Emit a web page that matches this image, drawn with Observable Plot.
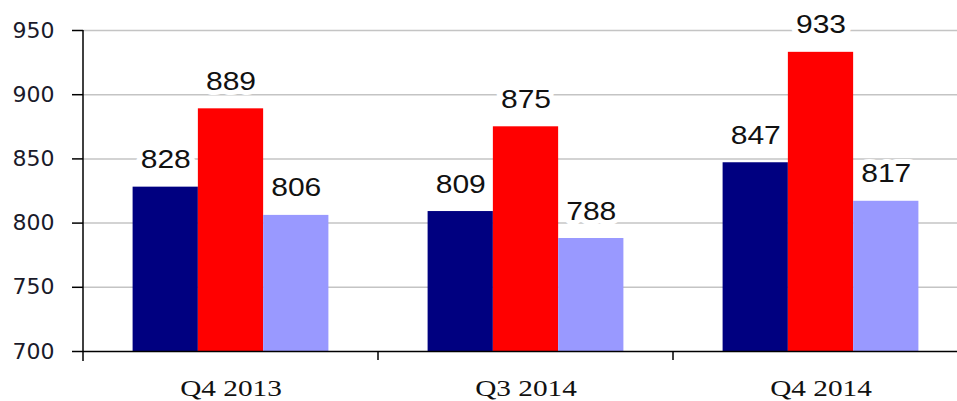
<!DOCTYPE html>
<html>
<head>
<meta charset="utf-8">
<script src="https://cdn.jsdelivr.net/npm/d3@7"></script>
<script src="https://cdn.jsdelivr.net/npm/@observablehq/plot@0.6"></script>
<style>
  html, body { margin: 0; padding: 0; background: #fff; overflow: hidden; }
  svg.plot, .plot { max-width: none !important; }
</style>
</head>
<body>
<div id="chart"></div>
<script>
const quarters = ["Q4 2013", "Q3 2014", "Q4 2014"];
const seriesNames = ["Series 1", "Series 2", "Series 3"];
const series1 = [828, 809, 847];
const series2 = [889, 875, 933];
const series3 = [806, 788, 817];
const yTicks = [700, 750, 800, 850, 900, 950];
const colors = ["#000080", "#FF0000", "#9999FF"];

const allSeries = [series1, series2, series3];
const data = [];
quarters.forEach((q, qi) => {
  seriesNames.forEach((s, si) => {
    data.push({quarter: q, series: s, value: allSeries[si][qi]});
  });
});

const chart = Plot.plot({
  width: 968,
  height: 401,
  marginLeft: 82,
  marginRight: 0,
  marginTop: 30,
  marginBottom: 50,
  style: {background: "#fff", maxWidth: "none", overflow: "hidden"},
  fx: {domain: quarters, padding: 0, label: null},
  x: {domain: seriesNames, paddingInner: 0, paddingOuter: 0.76, round: false, axis: null},
  y: {domain: [700, 950], ticks: yTicks, label: null},
  color: {domain: seriesNames, range: colors},
  marks: [
    Plot.gridY(yTicks.slice(1), {stroke: "#c4c4c4", strokeOpacity: 1, strokeWidth: 1.5}),
    Plot.barY(data, {fx: "quarter", x: "series", y1: 700, y2: "value", fill: "series"}),
    Plot.ruleY([700], {stroke: "#000", strokeWidth: 1.5}),
    Plot.text(data, {
      fx: "quarter", x: "series", y: "value", text: d => String(d.value),
      dy: -27, lineAnchor: "middle", textAnchor: "middle",
      fontSize: 25, fontFamily: "Liberation Sans", fill: "#111",
      stroke: "#fff", strokeWidth: 10
    }),
    Plot.axisY(yTicks, {
      tickSize: 11, tickPadding: 18, fontSize: 22, fontFamily: "DejaVu Sans",
      fill: "#1a1a2a", stroke: "#000", strokeWidth: 1.5, label: null
    }),
    Plot.axisFx({
      anchor: "bottom",
      tickSize: 0, tickPadding: 27, fontSize: 24, fontFamily: "Liberation Serif",
      fill: "#111", label: null
    })
  ]
});

document.getElementById("chart").appendChild(chart);

const svgEl = chart.tagName === "svg" ? chart : chart.querySelector("svg");
const svg = d3.select(svgEl);
const valueStrings = data.map(d => String(d.value));

// the reference's text is drawn slightly wide: stretch labels horizontally
function stretch(filterFn, fontSize, family, factor) {
  svg.selectAll("text").filter(function() { return filterFn(this.textContent); })
    .style("font-size", fontSize + "px").style("font-family", family)
    .each(function() {
      const w = this.getComputedTextLength();
      this.setAttribute("textLength", (w * factor).toFixed(1));
      this.setAttribute("lengthAdjust", "spacingAndGlyphs");
    });
}
stretch(t => quarters.includes(t), 24, "'Liberation Serif', serif", 1.22);
stretch(t => valueStrings.includes(t), 25, "'Liberation Sans', sans-serif", 1.2);

// axis line and group boundary ticks, positioned from the chart's scales
const fx = chart.scale("fx");
const ys = chart.scale("y");
const yTop = ys.apply(950), yBase = ys.apply(700);
const g = svg.append("g").attr("stroke", "#000").attr("stroke-width", 1.5);
const x0 = fx.apply(quarters[0]);
g.append("line").attr("x1", x0).attr("x2", x0).attr("y1", yTop).attr("y2", yBase + 10);
const bounds = quarters.slice(1).map(q => fx.apply(q)).concat([fx.apply(quarters[quarters.length - 1]) + fx.bandwidth]);
bounds.forEach(b => {
  g.append("line").attr("x1", b).attr("x2", b).attr("y1", yBase).attr("y2", yBase + 9);
});
</script>
</body>
</html>
